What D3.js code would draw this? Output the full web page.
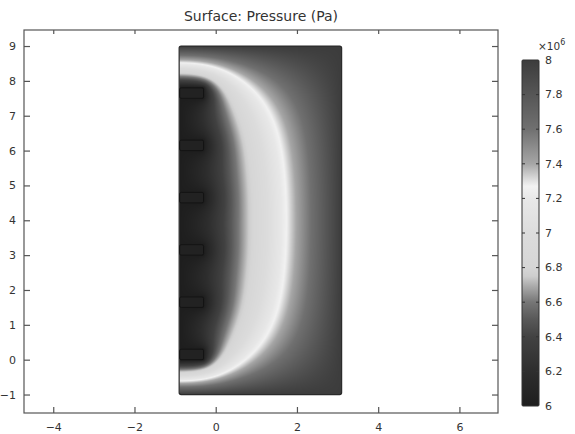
<!DOCTYPE html>
<html>
<head>
<meta charset="utf-8">
<script src="https://cdn.jsdelivr.net/npm/d3@7"></script>
<style>
  html, body { margin: 0; padding: 0; background: #fff; }
  svg { display: block; font-family: "DejaVu Sans", sans-serif; }
</style>
</head>
<body>
<svg id="chart" width="575" height="434"></svg>
<script>
// Axis ticks
const xTicks = [-4, -2, 0, 2, 4, 6];
const yTicks = [-1, 0, 1, 2, 3, 4, 5, 6, 7, 8, 9];
// Model domain (m)
const domainX = [-0.9, 3.1];
const domainY = [-1, 9];
// Wells along the left wall: bottom edge of each, common width and height
const wellBottoms = [0, 1.5, 3, 4.5, 6, 7.5];
const wellX = [-0.9, -0.3];
const wellHeight = 0.3;
// Open interval of the left wall, held at well pressure (m)
const screenY = [0, 7.8];
// Pressures (x1e6 Pa)
const outerPressure = 8.0;
const wellPressure = 6.0;
// Colour bar ticks (x1e6 Pa)
const cbTicks = [6, 6.2, 6.4, 6.6, 6.8, 7, 7.2, 7.4, 7.6, 7.8, 8];
// Grey colour table: pressure (x1e6 Pa) -> grey level
const cmapValues = [6.0, 6.2, 6.4, 6.5, 6.6, 6.7, 6.75, 6.8, 7.0, 7.2, 7.27, 7.3, 7.35, 7.4, 7.6, 7.8, 8.0];
const cmapGrey   = [30,  46,  66,  88,  118, 175, 205,  214, 220, 232, 242,  226, 196,  166, 112, 86,  60];

const W = 575, H = 434;
const plot = { left: 24, top: 30, right: 498, bottom: 413 };

const x = d3.scaleLinear().domain([-4.72, 6.95]).range([plot.left, plot.right]);
const y = d3.scaleLinear().domain([-1.53, 9.46]).range([plot.bottom, plot.top]);

const greyScale = d3.scaleLinear().domain(cmapValues).range(cmapGrey).clamp(true);
const colour = v => { const g = Math.round(greyScale(v)); return `rgb(${g},${g},${g})`; };

// ---- steady pressure field: Laplace on the domain, SOR relaxation ----
const hGrid = 0.05;
const nx = Math.round((domainX[1] - domainX[0]) / hGrid) + 1;
const ny = Math.round((domainY[1] - domainY[0]) / hGrid) + 1;
const p = new Float64Array(nx * ny).fill(7.0);
const fixed = new Uint8Array(nx * ny);
for (let j = 0; j < ny; j++) {
  for (let i = 0; i < nx; i++) {
    const k = j * nx + i;
    const xv = domainX[0] + i * hGrid, yv = domainY[0] + j * hGrid;
    if (j === 0 || j === ny - 1 || i === nx - 1) { fixed[k] = 1; p[k] = outerPressure; continue; }
    if (i === 0 && yv >= screenY[0] - 1e-9 && yv <= screenY[1] + 1e-9) { fixed[k] = 1; p[k] = wellPressure; }
    for (const b of wellBottoms) {
      if (xv <= wellX[1] + 1e-9 && yv >= b - 1e-9 && yv <= b + wellHeight + 1e-9) {
        fixed[k] = 1; p[k] = wellPressure;
      }
    }
  }
}
const omega = 1.94;
for (let it = 0; it < 3000; it++) {
  for (let j = 1; j < ny - 1; j++) {
    for (let i = 0; i < nx - 1; i++) {
      const k = j * nx + i;
      if (fixed[k]) continue;
      const left = i === 0 ? p[k + 1] : p[k - 1]; // closed wall outside the open interval
      const g = (left + p[k + 1] + p[k - nx] + p[k + nx]) * 0.25;
      p[k] += omega * (g - p[k]);
    }
  }
}
function sample(xv, yv) {
  let fi = (xv - domainX[0]) / hGrid, fj = (yv - domainY[0]) / hGrid;
  fi = Math.max(0, Math.min(nx - 1.0001, fi));
  fj = Math.max(0, Math.min(ny - 1.0001, fj));
  const i = Math.floor(fi), j = Math.floor(fj), tx = fi - i, ty = fj - j;
  const k = j * nx + i;
  return (p[k] * (1 - tx) + p[k + 1] * tx) * (1 - ty) + (p[k + nx] * (1 - tx) + p[k + nx + 1] * tx) * ty;
}

const svg = d3.select("#chart");

// ---- surface image ----
const px0 = x(domainX[0]), px1 = x(domainX[1]);
const py0 = y(domainY[1]), py1 = y(domainY[0]);
const cw = Math.ceil(px1 - px0), ch = Math.ceil(py1 - py0);
const canvas = document.createElement("canvas");
canvas.width = cw; canvas.height = ch;
const ctx = canvas.getContext("2d");
const img = ctx.createImageData(cw, ch);
for (let r = 0; r < ch; r++) {
  const yv = y.invert(py0 + r + 0.5);
  for (let c = 0; c < cw; c++) {
    const xv = x.invert(px0 + c + 0.5);
    const g = Math.round(greyScale(sample(xv, yv)));
    const o = (r * cw + c) * 4;
    img.data[o] = g; img.data[o + 1] = g; img.data[o + 2] = g; img.data[o + 3] = 255;
  }
}
ctx.putImageData(img, 0, 0);

const defs = svg.append("defs");
defs.append("clipPath").attr("id", "domClip")
  .append("rect").attr("x", px0).attr("y", py0).attr("width", px1 - px0).attr("height", py1 - py0)
  .attr("rx", 2);

svg.append("image")
  .attr("href", canvas.toDataURL())
  .attr("x", px0).attr("y", py0).attr("width", cw).attr("height", ch)
  .attr("preserveAspectRatio", "none")
  .attr("clip-path", "url(#domClip)");

svg.append("rect")
  .attr("x", px0).attr("y", py0).attr("width", px1 - px0).attr("height", py1 - py0)
  .attr("rx", 2).attr("fill", "none").attr("stroke", "#2a2a2a").attr("stroke-width", 1.2);

// wells
svg.append("g").selectAll("rect").data(wellBottoms).join("rect")
  .attr("x", x(wellX[0]) + 0.5)
  .attr("y", d => y(d + wellHeight))
  .attr("width", x(wellX[1]) - x(wellX[0]) - 0.5)
  .attr("height", d => y(d) - y(d + wellHeight))
  .attr("rx", 1.5)
  .attr("fill", colour(wellPressure + 0.05))
  .attr("stroke", "#141414").attr("stroke-width", 1);

// ---- axes frame with inward ticks ----
const axisColour = "#555";
const frame = svg.append("g");
frame.append("rect").attr("x", plot.left).attr("y", plot.top)
  .attr("width", plot.right - plot.left).attr("height", plot.bottom - plot.top)
  .attr("fill", "none").attr("stroke", axisColour).attr("stroke-width", 1.2);

const bottomAxis = d3.axisBottom(x).tickValues(xTicks).tickSizeInner(-6).tickSizeOuter(0).tickPadding(10);
const topAxis = d3.axisTop(x).tickValues(xTicks).tickSizeInner(-4).tickSizeOuter(0).tickFormat("");
const leftAxis = d3.axisLeft(y).tickValues(yTicks).tickSizeInner(-6).tickSizeOuter(0).tickPadding(8);
const rightAxis = d3.axisRight(y).tickValues(yTicks).tickSizeInner(-6).tickSizeOuter(0).tickFormat("");

function styleAxis(g) {
  g.select(".domain").remove();
  g.selectAll(".tick line").attr("stroke", axisColour).attr("stroke-width", 1.2);
  g.selectAll(".tick text").attr("fill", "#333").attr("font-size", 11).attr("font-family", "DejaVu Sans, sans-serif");
}
svg.append("g").attr("transform", `translate(0,${plot.bottom})`).call(bottomAxis).call(styleAxis);
svg.append("g").attr("transform", `translate(0,${plot.top})`).call(topAxis).call(styleAxis);
svg.append("g").attr("transform", `translate(${plot.left},0)`).call(leftAxis).call(styleAxis);
svg.append("g").attr("transform", `translate(${plot.right},0)`).call(rightAxis).call(styleAxis);

// title
svg.append("text").attr("x", (plot.left + plot.right) / 2).attr("y", 21)
  .attr("text-anchor", "middle").attr("font-size", 14).attr("fill", "#333")
  .text("Surface: Pressure (Pa)");

// ---- colour bar ----
const cb = { x: 522, w: 17, top: 60, bottom: 406 };
const cbScale = d3.scaleLinear().domain([cbTicks[0], cbTicks[cbTicks.length - 1]]).range([cb.bottom, cb.top]);
const grad = defs.append("linearGradient").attr("id", "cbGrad")
  .attr("x1", 0).attr("y1", 1).attr("x2", 0).attr("y2", 0);
grad.selectAll("stop").data(cmapValues).join("stop")
  .attr("offset", d => (d - 6) / 2)
  .attr("stop-color", d => colour(d));
svg.append("rect").attr("x", cb.x).attr("y", cb.top).attr("width", cb.w).attr("height", cb.bottom - cb.top)
  .attr("fill", "url(#cbGrad)").attr("stroke", "#333").attr("stroke-width", 1).attr("rx", 1);

const cbg = svg.append("g");
cbg.selectAll("line.l").data(cbTicks.slice(1, -1)).join("line").attr("class", "l")
  .attr("x1", cb.x).attr("x2", cb.x + 3).attr("y1", d => cbScale(d)).attr("y2", d => cbScale(d))
  .attr("stroke", "#333");
cbg.selectAll("line.r").data(cbTicks.slice(1, -1)).join("line").attr("class", "r")
  .attr("x1", cb.x + cb.w - 3).attr("x2", cb.x + cb.w).attr("y1", d => cbScale(d)).attr("y2", d => cbScale(d))
  .attr("stroke", "#333");
cbg.selectAll("text").data(cbTicks).join("text")
  .attr("x", cb.x + cb.w + 6).attr("y", d => cbScale(d)).attr("dy", "0.35em")
  .attr("font-size", 11).attr("fill", "#333")
  .text(d => d3.format("~g")(d));

const mult = svg.append("text").attr("x", 538).attr("y", 50).attr("font-size", 10.5).attr("fill", "#333");
mult.append("tspan").text("×10");
mult.append("tspan").attr("font-size", 8).attr("dy", -5).text("6");
</script>
</body>
</html>
